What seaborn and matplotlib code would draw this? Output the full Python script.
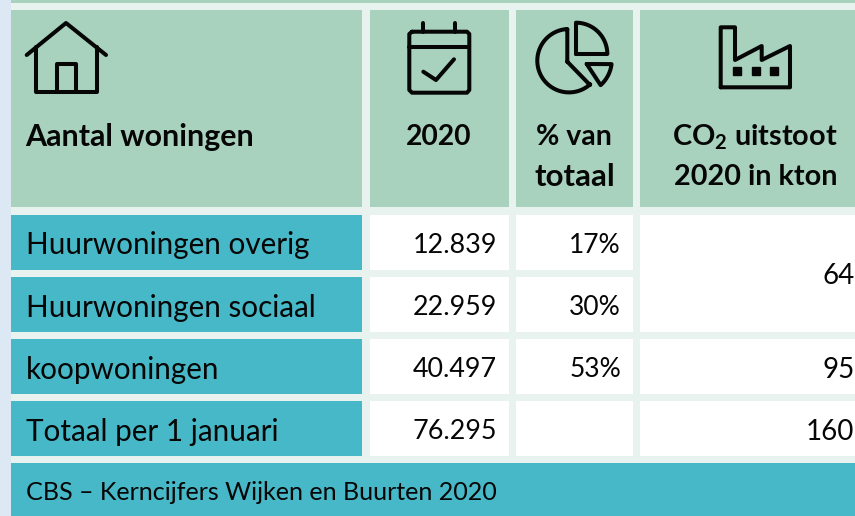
import numpy as np
import seaborn as sns
import matplotlib.pyplot as plt

# table content
categories = ["Huurwoningen overig", "Huurwoningen sociaal", "koopwoningen", "Totaal per 1 januari"]
woningen = ["12.839", "22.959", "40.497", "76.295"]
percentages = ["17%", "30%", "53%", ""]
co2_values = ["64", "95", "160"]
head_title = "Aantal woningen"
head_year = "2020"
head_pct = ["% van", "totaal"]
head_co2_top = "CO$_2$ uitstoot"
head_co2_bottom = "2020 in kton"
footer = "CBS – Kerncijfers Wijken en Buurten 2020"

W, H = 855, 516
GREEN = "#a8d2be"
TEAL = "#47b8c7"
LIGHT = "#e8f2ee"
LEFT = "#dce8f4"
INK = "#060606"

col_x = [(10.5, 362), (370, 509), (516, 633), (640, 855)]
row_y = [(215, 269.5), (277, 332), (339, 394), (401, 456)]

sns.set_theme(style="white")
plt.rcParams["font.family"] = ["Lato", "DejaVu Sans"]
plt.rcParams["mathtext.default"] = "regular"

fig = plt.figure(figsize=(W / 100, H / 100), dpi=100, facecolor=LIGHT)


def cell(x0, y0, x1, y1, color):
    ax = fig.add_axes([x0 / W, 1 - y1 / H, (x1 - x0) / W, (y1 - y0) / H])
    sns.heatmap([[1]], cmap=[color], cbar=False, xticklabels=False, yticklabels=False, ax=ax)


def arc(cx, cy, r, a0, a1):
    a = np.radians(np.linspace(a0, a1, 60))
    return np.column_stack([cx + r * np.cos(a), cy + r * np.sin(a)])


cell(0, 0, 10.5, H, LEFT)
cell(10.5, 0, W, 3, GREEN)
for x0, x1 in col_x:
    cell(x0, 10, x1, 207, GREEN)
for y0, y1 in row_y:
    cell(col_x[0][0], y0, col_x[0][1], y1, TEAL)
    cell(col_x[1][0], y0, col_x[1][1], y1, "white")
    cell(col_x[2][0], y0, col_x[2][1], y1, "white")
cell(col_x[3][0], row_y[0][0], W, row_y[1][1], "white")
cell(col_x[3][0], row_y[2][0], W, row_y[2][1], "white")
cell(col_x[3][0], row_y[3][0], W, row_y[3][1], "white")
cell(col_x[0][0], 463, W, H, TEAL)

# overlay in pixel coordinates for text and icons
top = fig.add_axes([0, 0, 1, 1], facecolor="none")
top.set_xlim(0, W)
top.set_ylim(H, 0)
top.axis("off")


def stroke(points, closed=False, lw=2.9):
    pts = np.asarray(points, dtype=float)
    if closed:
        pts = np.vstack([pts, pts[:1]])
    top.plot(pts[:, 0], pts[:, 1], color=INK, lw=lw, solid_joinstyle="round",
             solid_capstyle="round", clip_on=False)


# house
stroke([(26.7, 55), (66, 23), (106, 55)])
stroke([(36, 47), (36, 92), (96.7, 92), (96.7, 47)])
stroke([(56.7, 92), (56.7, 63.5), (76, 63.5), (76, 92)])

# calendar
stroke([(412, 31.7), (467, 31.7), (469.3, 34), (469.3, 90), (467, 92.7), (412, 92.7), (409.3, 90), (409.3, 34)], closed=True)
stroke([(409.3, 46.7), (469.3, 46.7)])
stroke([(423.3, 22.7), (423.3, 31.7)])
stroke([(455, 22.7), (455, 31.7)])
stroke([(423.3, 71.7), (436, 80), (454, 59.3)])

# pie chart
stroke(np.vstack([[(567.3, 61.7), (590, 85)], arc(569, 60.7, 31.7, 48, 267), [(567.3, 29)]]), closed=True)
stroke(np.vstack([[(576, 54)], arc(576, 54, 31.3, -90, 0)]), closed=True)
stroke(np.vstack([[(586.7, 64)], arc(578, 60, 33.8, 7, 48)]), closed=True)

# factory
stroke([(720.7, 87.3), (720.7, 27.3), (735, 27.3), (735, 60), (761.7, 46), (761.7, 60), (790, 46), (790, 87.3)], closed=True)
for dot_x in [736.7, 755.7, 773.7]:
    top.plot([dot_x], [71], marker="s", ms=5.4, color=INK)

# header text
head = dict(color=INK, fontweight="bold", va="center")
top.text(25, 137, head_title, ha="left", fontsize=21.9, **head)
top.text(439, 137, head_year, ha="center", fontsize=20.3, **head)
top.text(574, 137, head_pct[0], ha="center", fontsize=20.5, **head)
top.text(574.5, 177, head_pct[1], ha="center", fontsize=22.5, **head)
top.text(755, 137, head_co2_top, ha="center", fontsize=20.8, **head)
top.text(755.5, 177, head_co2_bottom, ha="center", fontsize=20.7, **head)

# body text
body = dict(color=INK, va="center")
centers = [(y0 + y1) / 2 + 3 for y0, y1 in row_y]
for y, name, n, p in zip(centers, categories, woningen, percentages):
    top.text(26, y, name, ha="left", fontsize=21.3, **body)
    top.text(497, y, n, ha="right", fontsize=19.4, **body)
    top.text(621, y, p, ha="right", fontsize=19, **body)
co2_y = [(row_y[0][0] + row_y[1][1]) / 2 + 3, centers[2], centers[3]]
for y, v in zip(co2_y, co2_values):
    top.text(854.5, y, v, ha="right", fontsize=20, **body)

top.text(26, 492, footer, ha="left", color=INK, fontsize=18.1, va="center")

fig.savefig("out.png", dpi=100, facecolor=LIGHT)
